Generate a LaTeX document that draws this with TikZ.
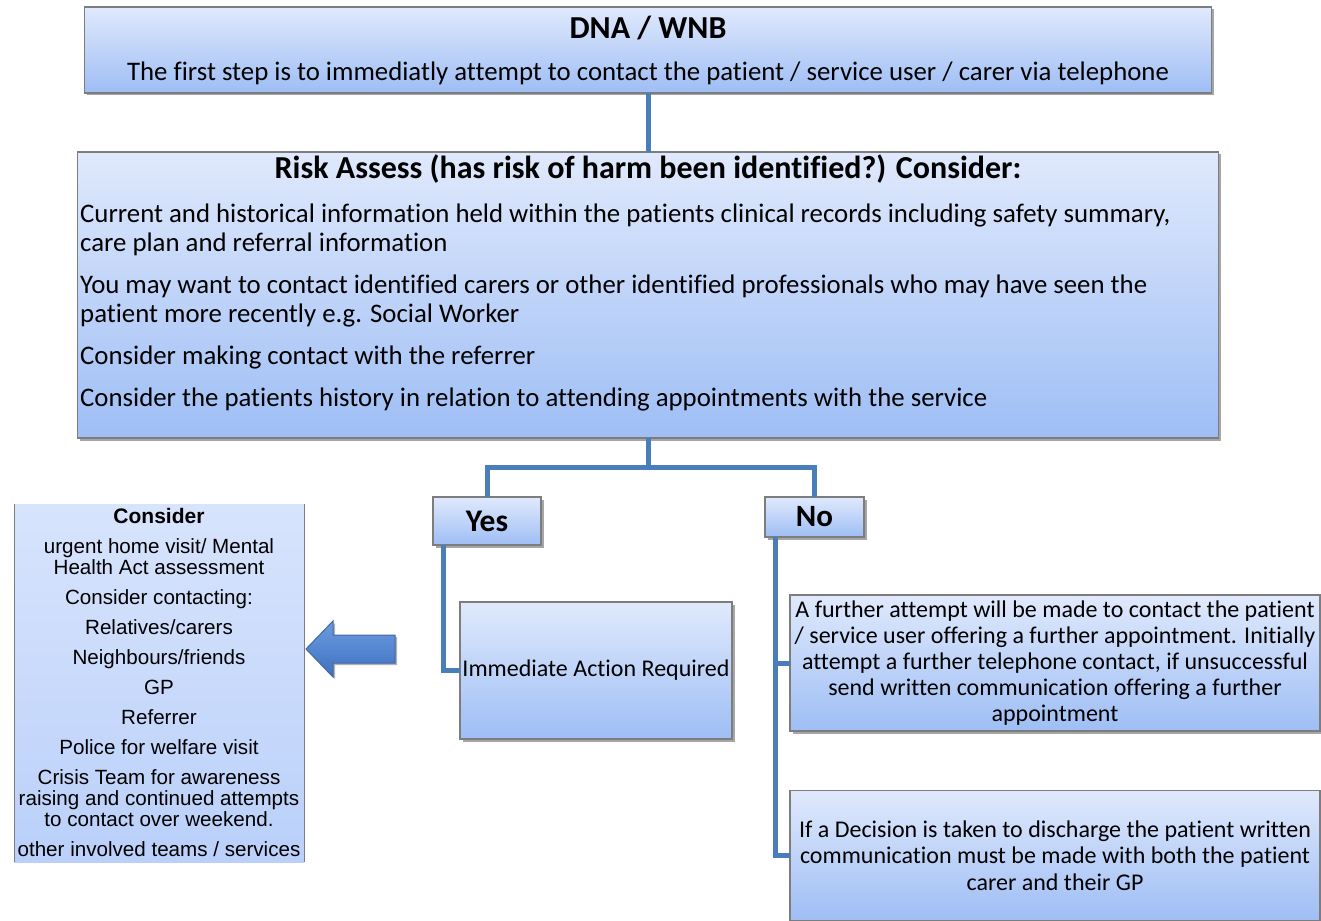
\documentclass[tikz,border=0pt]{standalone}
\usepackage{fontspec}
\setmainfont{Carlito}[Ligatures={NoCommon,NoContextual}]
\newfontfamily\arialfont{Liberation Sans}[Ligatures={NoCommon}]
\usetikzlibrary{positioning,shadows}

\definecolor{linkblue}{RGB}{74,126,187}
\definecolor{boxtop}{RGB}{224,233,252}
\definecolor{boxbottom}{RGB}{158,190,245}
\definecolor{boxedge}{RGB}{125,125,125}
\definecolor{sidetop}{RGB}{216,228,252}
\definecolor{sidebottom}{RGB}{186,208,250}
\definecolor{arrowtop}{RGB}{108,156,224}
\definecolor{arrowbottom}{RGB}{62,112,192}
\definecolor{arrowedge}{RGB}{66,104,164}

\begin{document}
\begin{tikzpicture}[x=1pt, y=-1pt,
  box/.style={draw=boxedge, line width=1.2pt, top color=boxtop, bottom color=boxbottom,
    inner sep=0pt, outer sep=0pt,
    drop shadow={shadow xshift=2.5pt, shadow yshift=-2.5pt, fill=black, opacity=0.35}},
  link/.style={draw=linkblue, line width=5pt},
  body/.style={font=\fontsize{24}{26}\selectfont, align=center}]

\useasboundingbox (0,0) rectangle (1321,920);

% top of the chart
\node[box, minimum width=1127pt, minimum height=86pt] (dna) at (648,50) {};
\node[font=\fontsize{32}{36}\selectfont\bfseries] (dnatitle) at (648,28) {DNA / WNB};
\node[font=\fontsize{26.8}{30}\selectfont] (dnatext) at (648,73)
  {The first step is to immediatly attempt to contact the patient / service user / carer via telephone};

\node[box, minimum width=1141pt, minimum height=286pt] (risk) at (648,295) {};
\node[font=\fontsize{32}{36}\selectfont\bfseries] (risktitle) at (648,169)
  {Risk Assess (has risk of harm been identified?) Consider:};
\node[font=\fontsize{26.8}{29}\selectfont, align=left, anchor=north west, inner sep=0pt] (risktext) at (80,203.5)
  {Current and historical information held within the patients clinical records including safety summary,\\
   care plan and referral information\\[13pt]
   You may want to contact identified carers or other identified professionals who may have seen the\\
   patient more recently e.g. Social Worker\\[13pt]
   Consider making contact with the referrer\\[13pt]
   Consider the patients history in relation to attending appointments with the service};

% yes / no
\node[box, minimum width=108pt, minimum height=48pt, font=\fontsize{31.5}{36}\selectfont\bfseries] (yes) at (487,521) {Yes};
\node[box, minimum width=99pt, minimum height=40pt, font=\fontsize{31}{36}\selectfont\bfseries] (no) at (814.5,517) {No};

\node[box, minimum width=272pt, minimum height=137pt, font=\fontsize{24}{26}\selectfont] (action) at (596,670.5)
  {Immediate Action Required};

\node[box, minimum width=530pt, minimum height=136pt, body] (further) at (1055,663)
  {A further attempt will be made to contact the patient\\
   / service user offering a further appointment. Initially\\
   attempt a further telephone contact, if unsuccessful\\
   send written communication offering a further\\
   appointment};
\node[box, minimum width=530pt, minimum height=130pt, body] (discharge) at (1055,855.5)
  {If a Decision is taken to discharge the patient written\\[0.5pt]
   communication must be made with both the patient\\[0.5pt]
   carer and their GP};

% side panel
\node[top color=sidetop, bottom color=sidebottom, minimum width=290pt, minimum height=358pt,
  inner sep=0pt, outer sep=0pt] (consider) at (159,683) {};
\draw[boxedge, line width=1pt] (consider.north west) -- (consider.south west);
\draw[boxedge, line width=1pt] (consider.north east) -- (consider.south east);
\node[font=\arialfont\fontsize{20.6}{21}\selectfont, align=center] (considertext) at (159,682)
  {{\fontsize{21}{21}\selectfont\bfseries Consider}\\[9pt]
   urgent home visit/ Mental\\
   Health Act assessment\\[9pt]
   Consider contacting:\\[9pt]
   Relatives/carers\\[9pt]
   Neighbours/friends\\[9pt]
   GP\\[9pt]
   Referrer\\[9pt]
   Police for welfare visit\\[9pt]
   Crisis Team for awareness\\
   raising and continued attempts\\
   to contact over weekend.\\[9pt]
   other involved teams / services};

\path[draw=arrowedge, line width=1pt, top color=arrowtop, bottom color=arrowbottom,
  drop shadow={shadow xshift=2pt, shadow yshift=-2pt, fill=black, opacity=0.3}]
  (306,649) -- (333,621) -- (333,635) -- (395,635) -- (395,663) -- (333,663) -- (333,677) -- cycle;

% connectors
\coordinate (split) at (648,467);
\draw[link] (dna.south) -- (risk.north);
\draw[link] (risk.south) -- (split);
\draw[link] (split) -| (yes.north);
\draw[link] (split) -| (no.north);
\draw[link] ([xshift=10pt]yes.south west) |- (action.west);
\draw[link] ([xshift=10pt]no.south west) |- (further.west);
\draw[link] ([xshift=10pt]no.south west) |- (discharge.west);

\end{tikzpicture}
\end{document}
